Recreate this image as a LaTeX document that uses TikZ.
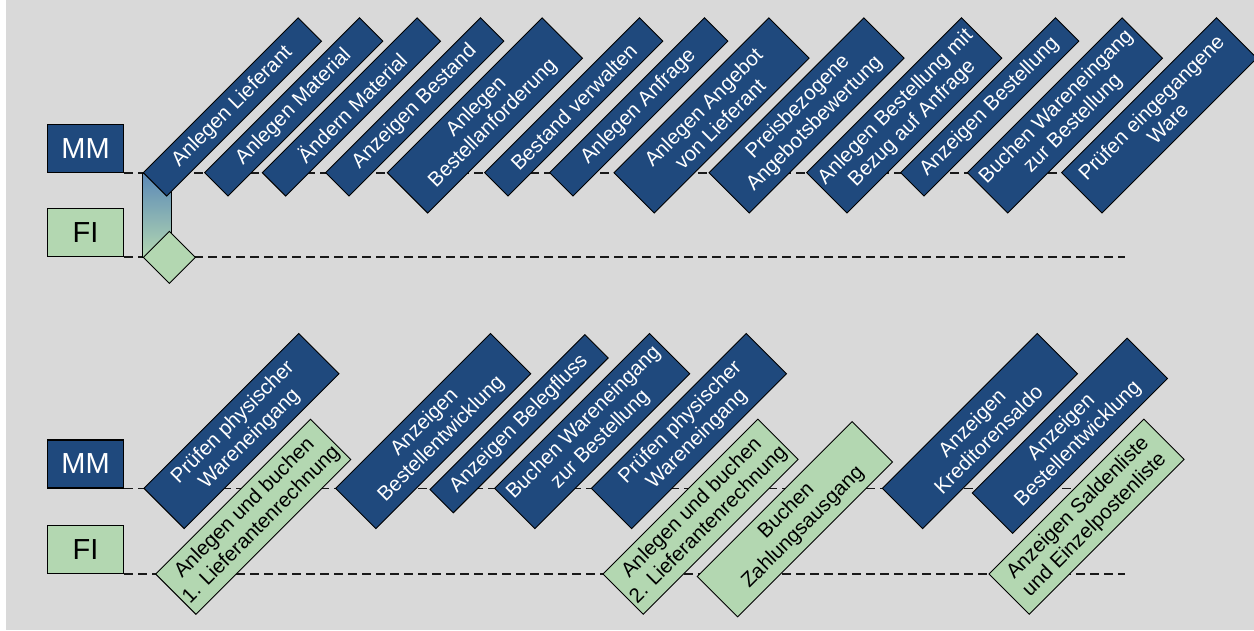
\documentclass[tikz,border=0pt]{standalone}
\usepackage{fontspec}
\setmainfont{Liberation Sans}
\definecolor{mmblue}{HTML}{1F497D}
\definecolor{figreen}{HTML}{B3D7B1}
\definecolor{bggray}{HTML}{D9D9D9}
\definecolor{gradblue}{HTML}{5B89B7}
\newcommand\taskfont{\fontsize{20.5}{23.5}\selectfont}
\newcommand\lanefont{\fontsize{29}{32}\selectfont}
\tikzset{
  task/.style={draw=black,line width=0.9pt,rotate=45,anchor=north west,
    minimum width=219pt,minimum height=33pt,inner sep=0pt,align=center,font=\taskfont},
  mmtask/.style={task,fill=mmblue,text=white},
  fitask/.style={task,fill=figreen,text=black},
  tall/.style={minimum height=57pt},
  lanelabel/.style={draw=black,line width=1.1pt,anchor=south west,
    minimum width=76.6pt,minimum height=48pt,inner sep=0pt,font=\lanefont},
  lane/.style={line width=1.8pt,dash pattern=on 9pt off 5pt,black!90}
}
\begin{document}
\begin{tikzpicture}[x=1pt,y=-1pt]
\fill[white] (0,0) rectangle (1254,630);
\fill[bggray] (6,0) rectangle (1254,630);
\useasboundingbox (0,0) rectangle (1254,630);

% lanes
\node[lanelabel,fill=mmblue,text=white] (mmA) at (46.7,173) {MM};
\node[lanelabel,fill=figreen] (fiA) at (46.7,257.3) {FI};
\node[lanelabel,fill=mmblue,text=white] (mmB) at (46.7,488.5) {MM};
\node[lanelabel,fill=figreen] (fiB) at (46.7,574) {FI};
\coordinate (mmAend) at (1125,173);
\coordinate (fiAend) at (1125,257.3);
\coordinate (mmBend) at (1125,488.5);
\coordinate (fiBend) at (1125,574);
\draw[lane] (mmA.south east) -- (mmAend);
\draw[lane] (fiA.south east) -- (fiAend);
\draw[lane] (mmB.south east) -- (mmBend);
\draw[lane] (fiB.south east) -- (fiBend);

% link MM -> FI
\node[draw=black,line width=0.9pt,top color=gradblue,bottom color=figreen,anchor=north west,
  minimum width=29pt,minimum height=84.5pt,inner sep=0pt] (bar) at (141.7,172.7) {};
\node[fitask,minimum width=36.8pt,minimum height=36.8pt] (gate) at (142.7,257.3) {};

% first run
\node[mmtask] (lief) at (142.7,172.7) {Anlegen Lieferant};
\node[mmtask] (mat) at (204,172.7) {Anlegen Material};
\node[mmtask] (matx) at (261.7,172.7) {Ändern Material};
\node[mmtask] (bestand) at (325,172.7) {Anzeigen Bestand};
\node[mmtask,tall] (banf) at (386.7,172.7) {Anlegen\\Bestellanforderung};
\node[mmtask] (bverw) at (484,172.7) {Bestand verwalten};
\node[mmtask] (anfrage) at (549,172.7) {Anlegen Anfrage};
\node[mmtask,tall] (angebot) at (613.3,172.7) {Anlegen Angebot\\von Lieferant};
\node[mmtask,tall] (bewertung) at (708.3,172.7) {Preisbezogene\\Angebotsbewertung};
\node[mmtask,tall] (bestellung) at (806,172.7) {Anlegen Bestellung mit\\Bezug auf Anfrage};
\node[mmtask] (zbest) at (900,172.7) {Anzeigen Bestellung};
\node[mmtask,tall] (weA) at (966.7,172.7) {Buchen Wareneingang\\zur Bestellung};
\node[mmtask,tall] (pruefA) at (1061,172.7) {Prüfen eingegangene\\Ware};

% second run
\node[mmtask,tall] (pruefB) at (143.3,488.3) {Prüfen physischer\\Wareneingang};
\node[fitask,tall] (rechnung1) at (155,574) {Anlegen und buchen\\1. Lieferantenrechnung};
\node[mmtask,tall] (entw1) at (335,488.3) {Anzeigen\\Bestellentwicklung};
\node[mmtask] (belegfluss) at (429.3,489.5) {Anzeigen Belegfluss};
\node[mmtask,tall] (weB) at (494,488.3) {Buchen Wareneingang\\zur Bestellung};
\node[mmtask,tall] (pruefC) at (590.7,488.3) {Prüfen physischer\\Wareneingang};
\node[fitask,tall] (rechnung2) at (602.3,574) {Anlegen und buchen\\2. Lieferantenrechnung};
\node[fitask,tall] (zahlung) at (696.7,576.5) {Buchen\\Zahlungsausgang};
\node[mmtask,tall] (saldo) at (881.7,488.3) {Anzeigen\\Kreditorensaldo};
\node[mmtask,tall] (entw2) at (971.7,493) {Anzeigen\\Bestellentwicklung};
\node[fitask,tall] (liste) at (988.3,574) {Anzeigen Saldenliste\\und Einzelpostenliste};
\end{tikzpicture}
\end{document}
